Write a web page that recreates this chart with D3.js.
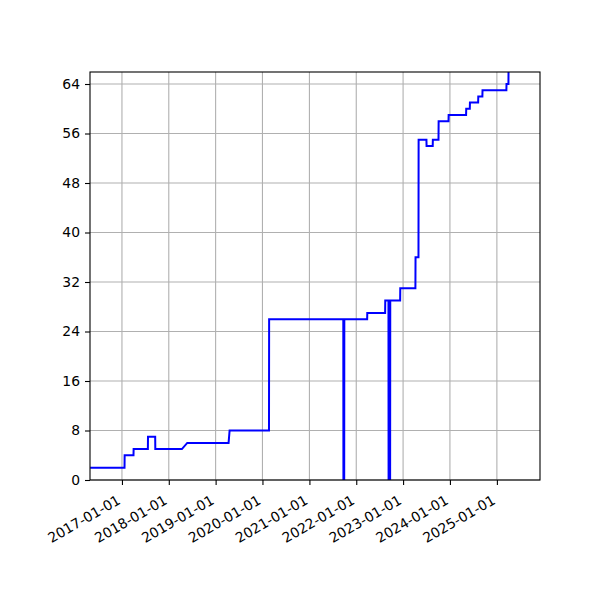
<!DOCTYPE html>
<html lang="en">
<head>
  <meta charset="UTF-8">
  <title>Step chart</title>
  <style>
    * { margin: 0; padding: 0; box-sizing: border-box; }
    body { background: #fff; font-family: "DejaVu Sans", sans-serif; }
    #chart { width: 600px; height: 600px; }
  </style>
</head>
<body>
  <div id="chart"></div>
  <script src="https://d3js.org/d3.v7.min.js"></script>
  <script>
  // dates where the value changes (two points per step)
  var dates = [
    "2016-04-28",
    "2017-01-21", "2017-01-22",
    "2017-04-01", "2017-04-02",
    "2017-07-22", "2017-07-23",
    "2017-09-17", "2017-09-18",
    "2018-04-13", "2018-05-25",
    "2019-04-12", "2019-04-20",
    "2020-02-21", "2020-02-22",
    "2021-09-22", "2021-09-23", "2021-09-29", "2021-09-30",
    "2022-03-27", "2022-03-28",
    "2022-08-14", "2022-08-15",
    "2022-09-09", "2022-09-10", "2022-09-22", "2022-09-23",
    "2022-12-09", "2022-12-10",
    "2023-04-07", "2023-04-08",
    "2023-05-01", "2023-05-02",
    "2023-07-02", "2023-07-03",
    "2023-08-20", "2023-08-21",
    "2023-10-04", "2023-10-05",
    "2023-12-21", "2023-12-22",
    "2024-05-06", "2024-05-07",
    "2024-06-04", "2024-06-05",
    "2024-08-08", "2024-08-09",
    "2024-09-10", "2024-09-11",
    "2025-03-16", "2025-03-17",
    "2025-04-01", "2025-04-02"
  ];
  var values = [
    2,
    2, 4,
    4, 5,
    5, 7,
    7, 5,
    5, 6,
    6, 8,
    8, 26,
    26, 0, 0, 26,
    26, 27,
    27, 29,
    29, 0, 0, 29,
    29, 31,
    31, 36,
    36, 55,
    55, 54,
    54, 55,
    55, 58,
    58, 59,
    59, 60,
    60, 61,
    61, 62,
    62, 63,
    63, 64,
    64, 67
  ];
  var yTicks = [0, 8, 16, 24, 32, 40, 48, 56, 64];
  var xTickLabels = ["2017-01-01", "2018-01-01", "2019-01-01", "2020-01-01", "2021-01-01",
                     "2022-01-01", "2023-01-01", "2024-01-01", "2025-01-01"];

  var parse = d3.utcParse("%Y-%m-%d");
  var data = dates.map(function(d, i) { return [parse(d), values[i]]; });

  var margin = {top: 72, right: 60, bottom: 120, left: 90};
  var width = 600 - margin.left - margin.right;
  var height = 600 - margin.top - margin.bottom;

  var svg = d3.select("#chart")
    .append("svg")
      .attr("width", 600)
      .attr("height", 600)
    .append("g")
      .attr("transform", "translate(" + margin.left + "," + margin.top + ")");

  var x = d3.scaleUtc()
    .domain([parse("2016-04-27"), parse("2025-12-03")])
    .range([0, width]);

  var y = d3.scaleLinear()
    .domain([0, 65.94])
    .range([height, 0]);

  svg.append("defs").append("clipPath")
      .attr("id", "clip")
    .append("rect")
      .attr("width", width)
      .attr("height", height);

  // grid
  svg.append("g")
    .selectAll("line")
    .data(xTickLabels)
    .enter()
    .append("line")
      .attr("x1", function(d) { return x(parse(d)); })
      .attr("x2", function(d) { return x(parse(d)); })
      .attr("y1", 0)
      .attr("y2", height)
      .attr("stroke", "#b0b0b0")
      .attr("stroke-width", 1.1);

  svg.append("g")
    .selectAll("line")
    .data(yTicks)
    .enter()
    .append("line")
      .attr("x1", 0)
      .attr("x2", width)
      .attr("y1", function(d) { return y(d); })
      .attr("y2", function(d) { return y(d); })
      .attr("stroke", "#b0b0b0")
      .attr("stroke-width", 1.1);

  // the line
  var line = d3.line()
    .x(function(d) { return x(d[0]); })
    .y(function(d) { return y(d[1]); });

  svg.append("path")
    .datum(data)
    .attr("clip-path", "url(#clip)")
    .attr("fill", "none")
    .attr("stroke", "#0000ff")
    .attr("stroke-width", 2)
    .attr("stroke-linejoin", "miter")
    .attr("d", line);

  // axes
  var xAxis = d3.axisBottom(x)
    .tickValues(xTickLabels.map(parse))
    .tickFormat(d3.utcFormat("%Y-%m-%d"))
    .tickSize(5)
    .tickPadding(4);

  var gx = svg.append("g")
    .attr("transform", "translate(0," + height + ")")
    .call(xAxis);
  gx.select(".domain").remove();
  gx.selectAll("text")
    .attr("y", 0)
    .attr("dy", 0)
    .attr("transform", "translate(-1,23)rotate(-30)")
    .style("text-anchor", "end")
    .style("font-size", "13.9px")
    .style("font-family", "DejaVu Sans")
    .attr("fill", "#000");

  var gy = svg.append("g")
    .call(d3.axisLeft(y).tickValues(yTicks).tickSize(5).tickPadding(5));
  gy.select(".domain").remove();
  gy.selectAll("text")
    .style("font-size", "13.9px")
    .style("font-family", "DejaVu Sans")
    .attr("fill", "#000");

  svg.selectAll(".tick line").attr("stroke", "#000").attr("stroke-width", 1.1);

  // frame
  svg.append("rect")
    .attr("width", width)
    .attr("height", height)
    .attr("fill", "none")
    .attr("stroke", "#000")
    .attr("stroke-width", 1.1);
  </script>
</body>
</html>
